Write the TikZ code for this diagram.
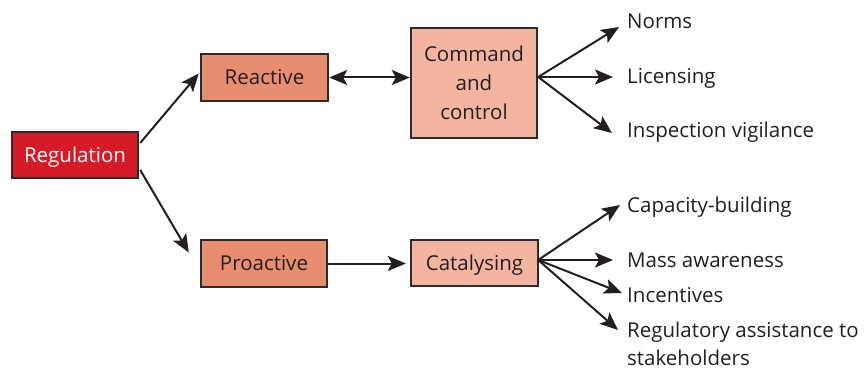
\documentclass[tikz,border=0pt]{standalone}
\usepackage{fontspec}
\setmainfont{Open Sans}
\usetikzlibrary{arrows.meta,calc}
\definecolor{ink}{HTML}{231F20}
\definecolor{boxline}{HTML}{2B2B2B}
\definecolor{regred}{HTML}{D71A28}
\definecolor{midsalmon}{HTML}{E98D70}
\definecolor{lightsalmon}{HTML}{F3B59F}
\begin{document}
\begin{tikzpicture}[x=1pt,y=-1pt,
  box/.style={draw=boxline, line width=2.4pt, inner sep=0pt, text=ink,
    font=\fontsize{20.5}{29}\selectfont, align=center},
  oneline/.style={text height=14.5pt, text depth=0pt},
  item/.style={anchor=base west, inner sep=0pt, text=ink,
    font=\fontsize{20.5}{28}\selectfont, align=left},
  link/.style={draw=ink, line width=2pt, -{Stealth[length=18pt,width=15pt,inset=4pt]}},
  bothlink/.style={draw=ink, line width=2pt,
    {Stealth[length=18pt,width=15pt,inset=4pt]}-{Stealth[length=18pt,width=15pt,inset=4pt]}}
]
\useasboundingbox (0,0) rectangle (866,371);

% boxes
\node[box, oneline, fill=regred, text=white, minimum width=126pt, minimum height=46pt]
  (reg) at (75,155) {Regulation};
\node[box, oneline, fill=midsalmon, minimum width=127pt, minimum height=47pt]
  (react) at (264.5,77.5) {Reactive};
\node[box, fill=lightsalmon, minimum width=126pt, minimum height=110pt]
  (cc) at (474,83) {Command\\and\\control};
\node[box, oneline, fill=midsalmon, minimum width=126pt, minimum height=47pt]
  (pro) at (264,263.5) {Proactive};
\node[box, oneline, fill=lightsalmon, minimum width=127pt, minimum height=46pt]
  (cat) at (474.5,263) {Catalysing};

% outcome labels (base = last line for the two-line label)
\node[item] (norms) at (627,29) {Norms};
\node[item] (lic) at (627,84) {Licensing};
\node[item] (insp) at (627,138) {Inspection vigilance};
\node[item] (cap) at (627,212) {Capacity-building};
\node[item] (mass) at (627,267) {Mass awareness};
\node[item] (inc) at (627,302) {Incentives};
\node[item] (ras) at (627,365) {Regulatory assistance to\\stakeholders};

% arrow tips in front of the labels
\coordinate (tnorms) at (619,27);
\coordinate (tlic) at (613,77);
\coordinate (tinsp) at (612,133);
\coordinate (tcap) at (620,205);
\coordinate (tmass) at (613,260);
\coordinate (tinc) at (622,293);
\coordinate (tras) at (618,330);

% fan origins
\coordinate (ccfan) at ($(cc.east)+(0,-6)$);
\coordinate (catfan) at ($(cat.east)+(-1,-3)$);

% connectors
\draw[link] ($(reg.east)+(1,-12)$) -- ($(react.west)+(-1,-4)$);
\draw[link] ($(reg.east)+(1,15)$) -- ($(pro.west)+(-11,-11)$);
\draw[bothlink] (react.east) -- (react.east -| cc.west);
\draw[link] (pro.east) -- ($(pro.east -| cat.west)+(-4,0)$);

\foreach \t in {tnorms,tlic,tinsp}
  \draw[link] (ccfan) -- (\t);
\foreach \t in {tcap,tmass,tinc,tras}
  \draw[link] (catfan) -- (\t);
\end{tikzpicture}
\end{document}
